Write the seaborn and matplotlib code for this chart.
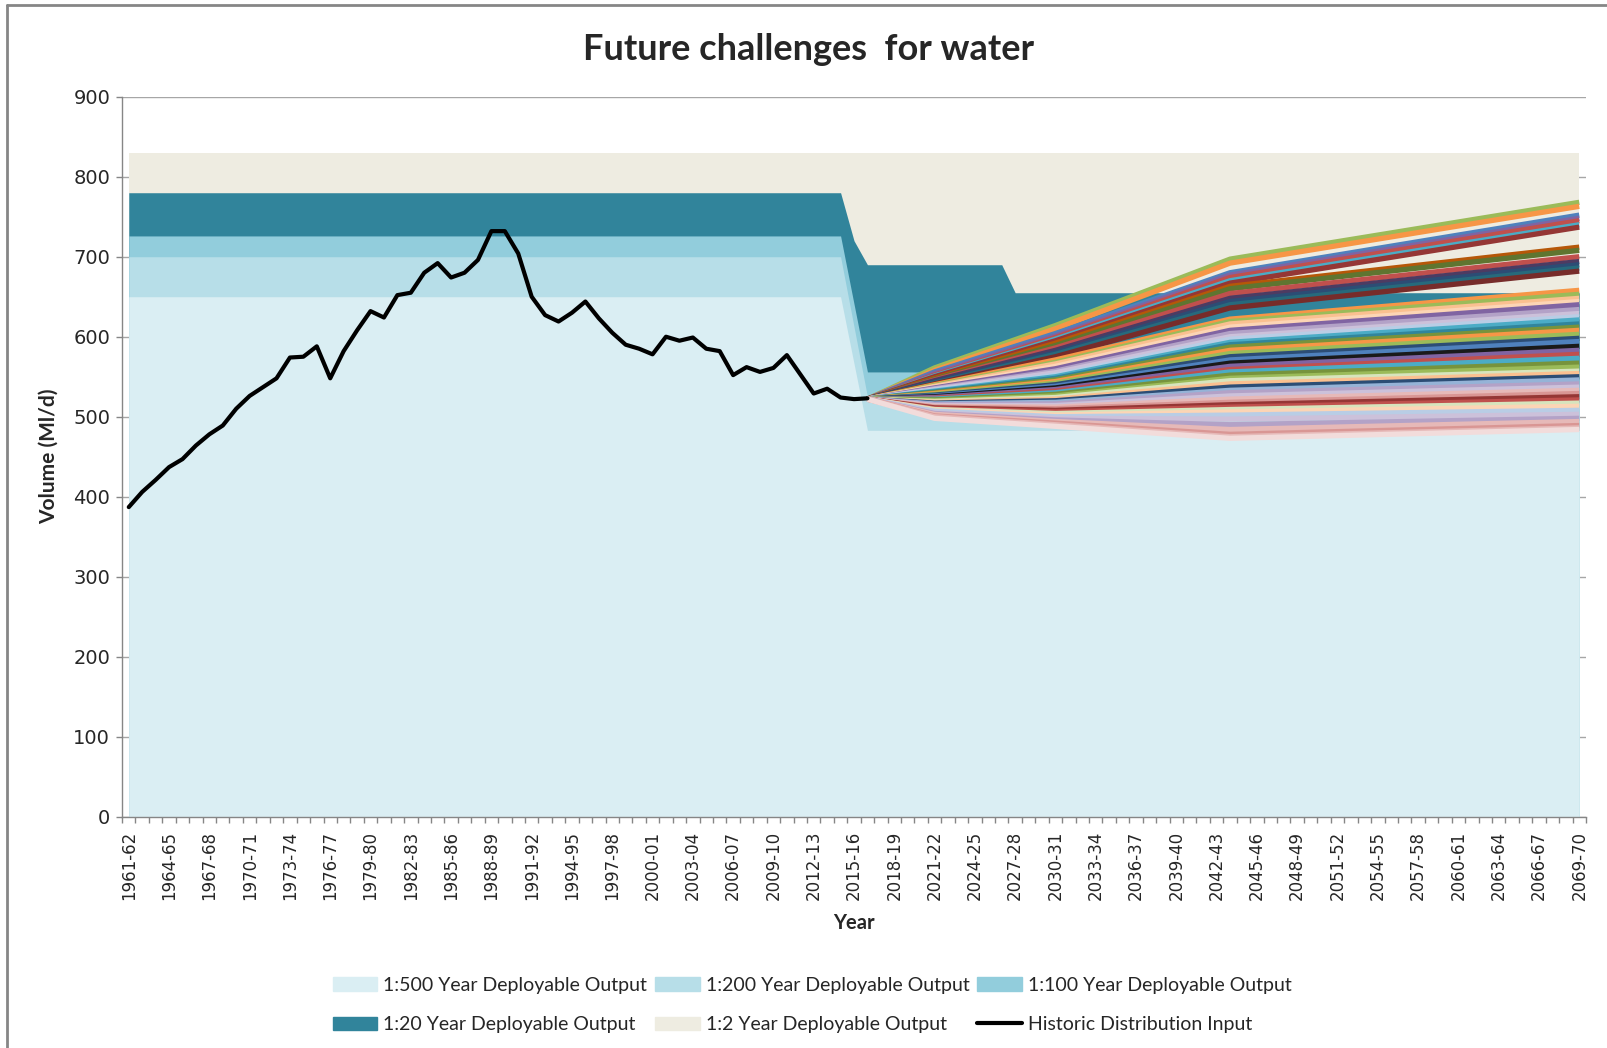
import matplotlib
matplotlib.use("Agg")
import matplotlib.pyplot as plt
from matplotlib.lines import Line2D
from matplotlib.patches import Patch
import seaborn as sns

# categories: water years 1961-62 .. 2069-70
YEARS = [f"{y}-{(y + 1) % 100:02d}" for y in range(1961, 2070)]

# historic distribution input, 1961-62 .. 2016-17 (Ml/d)
HIST_VALUES = [387, 406, 421, 437, 447, 464, 478, 489, 510, 526, 537, 548,
               574, 575, 588, 548, 582, 608, 632, 624, 652, 655, 680, 692,
               674, 680, 696, 732, 732, 704, 650, 627, 619, 630, 644, 623,
               605, 590, 585, 578, 600, 595, 599, 585, 582, 552, 562, 556,
               561, 577, 553, 529, 535, 524, 522, 523]
HIST_YEARS = YEARS[:len(HIST_VALUES)]

# deployable output bands (break points only, flat in between)
DO500_YEARS = ["1961-62", "2014-15", "2016-17", "2069-70"]
DO500_VALUES = [650, 650, 483, 483]
DO200_YEARS = ["1961-62", "2014-15", "2016-17", "2069-70"]
DO200_VALUES = [700, 700, 525, 525]
DO100_YEARS = ["1961-62", "2014-15", "2016-17", "2069-70"]
DO100_VALUES = [726, 726, 556, 556]
DO20_YEARS = ["1961-62", "2014-15", "2015-16", "2016-17", "2026-27",
              "2027-28", "2069-70"]
DO20_VALUES = [780, 780, 720, 690, 690, 655, 655]
DO2_YEARS = ["1961-62", "2069-70"]
DO2_VALUES = [830, 830]

# future distribution input scenarios, read at these years
FUT_YEARS = ["2016-17", "2021-22", "2030-31", "2043-44", "2069-70"]
FUT_START = 522
FUT_2021 = [561, 558, 556, 554, 552, 551, 550,
            548, 547, 546, 545, 543, 542, 541,
            540, 539, 538, 537, 536, 535, 534, 533, 532, 531, 530, 529, 528,
            527, 526, 525, 524, 523, 522, 521, 520, 519, 518, 517, 516, 515,
            514, 513, 512, 511, 510, 509, 508, 507, 505, 504, 503, 501, 500, 498]
FUT_2030 = [614, 610, 604, 601, 599, 597, 595,
            592, 589, 586, 583, 580, 578, 575,
            571, 568, 566, 563, 560, 557, 555, 552, 550, 548, 546, 544, 542,
            540, 538, 536, 534, 532, 530, 528, 526, 524, 522, 520, 518, 516,
            514, 512, 510, 508, 506, 504, 502, 500, 498, 496, 494, 492, 490, 488]
FUT_2043 = [697, 692, 680, 677, 674, 670, 667,
            663, 660, 654, 648, 644, 640, 636,
            622, 619, 616, 612, 608, 604, 600, 597, 593, 590, 587, 583, 579,
            575, 571, 567, 563, 559, 556, 552, 548, 545, 541, 537, 533, 530,
            526, 522, 518, 515, 512, 509, 506, 502, 497, 490, 484, 478, 475, 473]
FUT_2069 = [768, 763, 752, 748, 745, 740, 737,
            712, 708, 700, 694, 690, 686, 682,
            658, 653, 648, 644, 640, 634, 629, 625, 621, 616, 612, 608, 603,
            598, 594, 588, 583, 578, 573, 567, 562, 557, 554, 550, 546, 541,
            537, 533, 529, 525, 521, 517, 513, 508, 503, 498, 494, 489, 486, 484]
FUT_COLORS = ["#9BBB59", "#F79646", "#4F81BD", "#8064A2", "#C0504D", "#4BACC6", "#953735",
              "#B65708", "#5F7530", "#C0504D", "#4D3B62", "#2C4D75", "#276A7C", "#772C2A",
              "#F79646", "#9BBB59", "#FAC090", "#FCD5B5", "#8064A2", "#B3A2C7", "#CCC1DA",
              "#B9CDE5", "#4BACC6", "#31859C", "#77933C", "#F79646", "#9BBB59",
              "#2C4D75", "#4F81BD", "#1A1A1A", "#8064A2", "#C0504D", "#4BACC6", "#77933C",
              "#9BBB59", "#D7E4BD", "#FAC090", "#2C4D75", "#95B3D7", "#B3A2C7",
              "#CCC1DA", "#E6B9B8", "#D99694", "#953735", "#C0504D", "#D7E4BD", "#FCD5B5",
              "#B9CDE5", "#CCC1DA", "#B3A2C7", "#E6B9B8", "#D99694", "#E6B9B8", "#F2DCDB"]

C500, C200, C100, C20, C2 = "#DAEEF3", "#B7DEE8", "#92CDDC", "#31849B", "#EEECE1"
GREY = "#868686"

sns.set_theme(style="white")
plt.rcParams["font.family"] = ["DejaVu Sans"]
TITLE_FONT = ["Lato", "DejaVu Sans"]


def pos(labels):
    return [YEARS.index(lab) for lab in labels]


fig = plt.figure(figsize=(16.08, 10.48), dpi=100)
ax = fig.add_axes([0.0759, 0.2207, 0.9104, 0.687])

# bands, widest at the back
for yrs, vals, col in [(DO2_YEARS, DO2_VALUES, C2), (DO20_YEARS, DO20_VALUES, C20),
                       (DO100_YEARS, DO100_VALUES, C100), (DO200_YEARS, DO200_VALUES, C200),
                       (DO500_YEARS, DO500_VALUES, C500)]:
    ax.fill_between(pos(yrs), 0, vals, color=col, lw=0, zorder=1)

# scenario fan
fx = pos(FUT_YEARS)
for i, col in enumerate(FUT_COLORS):
    fy = [FUT_START, FUT_2021[i], FUT_2030[i], FUT_2043[i], FUT_2069[i]]
    sns.lineplot(x=fx, y=fy, color=col, lw=3.8, ax=ax, zorder=3,
                 solid_capstyle="butt")

sns.lineplot(x=pos(HIST_YEARS), y=HIST_VALUES, color="black", lw=3, ax=ax,
             zorder=4)

ax.set_xlim(-0.5, len(YEARS) - 0.5)
ax.set_ylim(0, 900)
ax.set_yticks(range(0, 901, 100))
ax.yaxis.grid(True, color="#A6A6A6", lw=1)
ax.set_axisbelow(True)
ax.tick_params(axis="y", direction="out", length=4.5, width=1, color=GREY,
               labelsize=14, pad=4, left=True)

ax.set_xticks(range(0, len(YEARS), 3), YEARS[::3], rotation=90)
ax.set_xticks([i - 0.5 for i in range(len(YEARS) + 1)], minor=True)
ax.tick_params(axis="x", which="major", length=0, labelsize=12, pad=10)
ax.tick_params(axis="x", which="minor", direction="out", length=4.5, width=1,
               color=GREY, bottom=True)
for side in ["top", "right"]:
    ax.spines[side].set_visible(False)
for side in ["left", "bottom"]:
    ax.spines[side].set_color(GREY)
    ax.spines[side].set_linewidth(1)
ax.set_xlabel("")
ax.set_ylabel("")

fig.text(0.5025, 0.953, "Future challenges  for water", ha="center", va="center",
         fontsize=26, fontweight="bold", family=TITLE_FONT)
fig.text(0.0305, 0.5645, "Volume (Ml/d)", rotation=90, ha="center", va="center",
         fontsize=15, fontweight="bold", family=TITLE_FONT)
fig.text(0.531, 0.1193, "Year", ha="center", va="center",
         fontsize=14.5, fontweight="bold", family=TITLE_FONT)

handles = [Patch(color=C500), Patch(color=C20), Patch(color=C200),
           Patch(color=C2), Patch(color=C100), Line2D([], [], color="black", lw=3)]
labels = ["1:500 Year Deployable Output", "1:20 Year Deployable Output",
          "1:200 Year Deployable Output", "1:2 Year Deployable Output",
          "1:100 Year Deployable Output", "Historic Distribution Input"]
fig.legend(handles, labels, loc="center", bbox_to_anchor=(0.505, 0.041), ncol=3,
           frameon=False, prop={"family": TITLE_FONT, "size": 14},
           handlelength=2.3, handletextpad=0.3, columnspacing=0.4,
           labelspacing=1.15, borderaxespad=0)

# chart border, as in the spreadsheet export
fig.add_artist(Line2D([7.5 / 1608, 7.5 / 1608], [0, 1 - 4.5 / 1048],
                      transform=fig.transFigure, color=GREY, lw=2))
fig.add_artist(Line2D([7.5 / 1608, 1], [1 - 4.5 / 1048, 1 - 4.5 / 1048],
                      transform=fig.transFigure, color=GREY, lw=2))

fig.savefig("out.png", dpi=100)
